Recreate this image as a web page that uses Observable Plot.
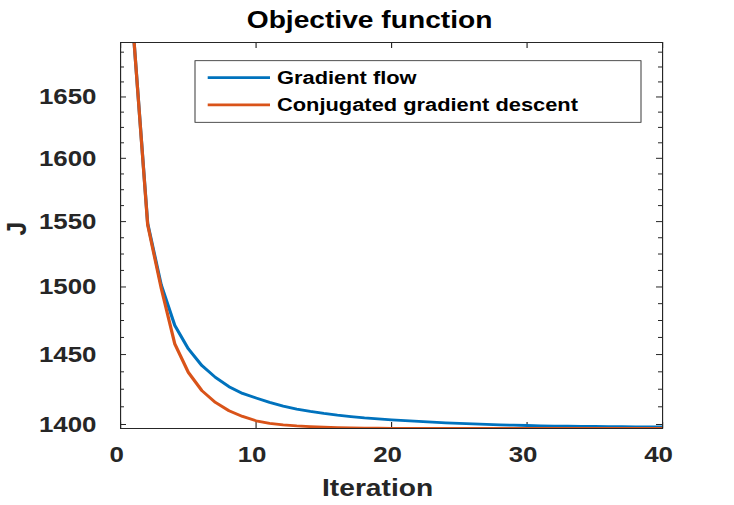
<!DOCTYPE html>
<html>
<head>
<meta charset="utf-8">
<script src="https://cdn.jsdelivr.net/npm/d3@7"></script>
<script src="https://cdn.jsdelivr.net/npm/@observablehq/plot@0.6"></script>
<style>
  html, body { margin: 0; padding: 0; background: white; }
  #chart { width: 734px; height: 505px; overflow: hidden; }
</style>
</head>
<body>
<div id="chart"></div>
<script>
// ---- data ----
const titleText = "Objective function";
const xLabel = "Iteration";
const yLabel = "J";
const seriesNames = ["Gradient flow", "Conjugated gradient descent"];
const seriesColors = ["#0072BD", "#D95319"];
const iterations = d3.range(1, 41);
const gradientFlow = [1695.7, 1548.5, 1501.5, 1471.3, 1454.2, 1442.0, 1433.5, 1426.8, 1422.0, 1418.7,
  1415.6, 1413.0, 1410.9, 1409.2, 1407.8, 1406.6, 1405.6, 1404.7, 1404.0, 1403.3,
  1402.7, 1402.2, 1401.7, 1401.2, 1400.8, 1400.4, 1400.1, 1399.8, 1399.5, 1399.3,
  1399.1, 1398.9, 1398.8, 1398.7, 1398.6, 1398.5, 1398.5, 1398.4, 1398.4, 1398.4];
const conjugateGradient = [1695.7, 1547.5, 1499.0, 1457.8, 1437.1, 1424.0, 1415.6, 1409.7, 1405.7, 1402.6,
  1400.8, 1399.7, 1399.0, 1398.5, 1398.1, 1397.8, 1397.6, 1397.5, 1397.4, 1397.3,
  1397.3, 1397.3, 1397.3, 1397.3, 1397.3, 1397.3, 1397.3, 1397.2, 1397.2, 1397.2,
  1397.2, 1397.2, 1397.2, 1397.2, 1397.2, 1397.2, 1397.2, 1397.2, 1397.2, 1397.2];
const xTicks = [0, 10, 20, 30, 40];
const yTicks = [1400, 1450, 1500, 1550, 1600, 1650];
const yMinorTicks = d3.range(1400, 1700, 12.5).filter(v => !yTicks.includes(v));

// ---- layout ----
const S = 1.15;                // horizontal stretch of the original figure
const W = 734 / S, H = 505;
const mL = 120 / S, mR = (734 - 662) / S, mT = 42, mB = 77;
const plotW = W - mL - mR, plotH = H - mT - mB;
const axisColor = "#262626";
const font = "'Liberation Sans', Arial, Helvetica, sans-serif";

const rows = [];
seriesNames.forEach((name, k) => {
  const vals = k === 0 ? gradientFlow : conjugateGradient;
  iterations.forEach((it, i) => rows.push({series: name, iter: it, J: vals[i]}));
});

const yDomain = d3.extent([...gradientFlow, ...conjugateGradient]);

const svg = Plot.plot({
  width: W, height: H,
  marginLeft: mL, marginRight: mR, marginTop: mT, marginBottom: mB,
  style: {fontFamily: font, fontWeight: "bold", color: axisColor, background: "white"},
  x: {domain: [0, 40], label: null},
  y: {type: "log", domain: yDomain, label: null},
  color: {domain: seriesNames, range: seriesColors},
  marks: [
    Plot.axisX(xTicks, {tickSize: 0, tickPadding: 18, fontSize: 22.5, dx: -4 / S, tickFormat: d3.format("d"), label: null}),
    Plot.axisY(yTicks, {tickSize: 0, tickPadding: 21, fontSize: 22.5, tickFormat: d3.format("d"), label: null}),
    Plot.tickX(xTicks, {x: d => d, insetTop: plotH - 6, stroke: axisColor}),
    Plot.tickX(xTicks, {x: d => d, insetBottom: plotH - 6, stroke: axisColor}),
    Plot.tickY(yTicks, {y: d => d, insetRight: plotW - 6 / S, stroke: axisColor}),
    Plot.tickY(yTicks, {y: d => d, insetLeft: plotW - 6 / S, stroke: axisColor}),
    Plot.tickY(yMinorTicks, {y: d => d, insetRight: plotW - 4 / S, stroke: axisColor}),
    Plot.tickY(yMinorTicks, {y: d => d, insetLeft: plotW - 4 / S, stroke: axisColor}),
    Plot.line(rows, {x: "iter", y: "J", z: "series", stroke: "series", strokeWidth: 2.8, clip: true}),
    Plot.frame({stroke: axisColor, strokeWidth: 1}),
    Plot.text([titleText], {text: d => d, frameAnchor: "top", dy: -32, dx: -22 / S, fontSize: 24.5, fontWeight: "bold", fill: "black"}),
    Plot.text([xLabel], {text: d => d, frameAnchor: "bottom", dy: 67, dx: -14 / S, fontSize: 24.5, fontWeight: "bold", fill: axisColor}),
    Plot.text([yLabel], {text: d => d, frameAnchor: "left", dx: (16 - 120) / S, rotate: -90, fontSize: 24.5, fontWeight: "bold", fill: axisColor})
  ]
});

// legend (MATLAB-style box inside axes)
const g = d3.select(svg).append("g")
  .attr("font-family", font).attr("font-weight", "bold").attr("font-size", 19).attr("text-anchor", "start");
const lx0 = 195 / S, ly0 = 60.7, lw = (641 - 195) / S, lh = 61.6;
g.append("rect").attr("x", lx0).attr("y", ly0).attr("width", lw).attr("height", lh)
  .attr("fill", "white").attr("stroke", axisColor).attr("stroke-width", 0.8);
const rowY = [77.7, 104.8];
seriesNames.forEach((name, k) => {
  g.append("line").attr("x1", 207.7 / S).attr("x2", 270 / S).attr("y1", rowY[k]).attr("y2", rowY[k])
    .attr("stroke", seriesColors[k]).attr("stroke-width", 2.8);
  g.append("text").attr("x", 277 / S).attr("y", rowY[k]).attr("dy", "0.35em")
    .attr("text-anchor", "start").attr("fill", "black").text(name);
});

svg.setAttribute("width", 734);
svg.setAttribute("height", H);
svg.setAttribute("viewBox", `0 0 ${W} ${H}`);
svg.setAttribute("preserveAspectRatio", "none");
svg.style.width = "734px";
svg.style.height = H + "px";
svg.style.maxWidth = "none";
document.getElementById("chart").appendChild(svg);
</script>
</body>
</html>
